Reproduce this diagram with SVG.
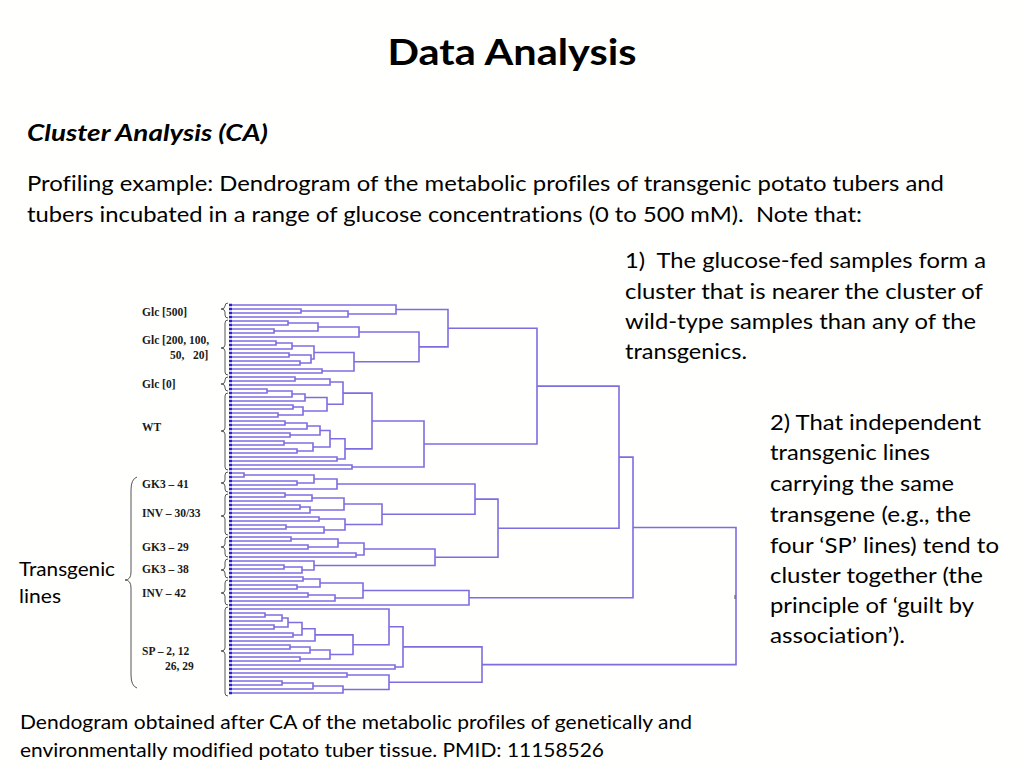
<svg xmlns="http://www.w3.org/2000/svg" width="1024" height="768" viewBox="0 0 1024 768">
<style>
.t{font-family:Lato,"Liberation Sans",sans-serif;fill:#000;font-variant-ligatures:none;}
.body{font-size:21px;}
.cap{font-size:19px;}
.lab{font-family:"Liberation Serif","DejaVu Serif",serif;font-weight:bold;font-size:11.5px;fill:#1a1a1a;}
.br{fill:none;stroke:#555;stroke-width:1;}
.dg path{fill:none;stroke:#7d6de2;stroke-width:1.6;}
</style>
<rect width="1024" height="768" fill="#fffffd"/>
<g id="title"><text class="t" x="512" y="65" text-anchor="middle" font-size="36" font-weight="bold" textLength="249" lengthAdjust="spacingAndGlyphs">Data Analysis</text></g>
<g id="subtitle"><text class="t" x="27" y="141" font-size="22" font-weight="bold" font-style="italic" textLength="241" lengthAdjust="spacingAndGlyphs">Cluster Analysis (CA)</text></g>
<g id="intro">
<text class="t body" x="27" y="191" textLength="917" lengthAdjust="spacingAndGlyphs">Profiling example: Dendrogram of the metabolic profiles of transgenic potato tubers and</text>
<text class="t body" x="27" y="222" textLength="835" lengthAdjust="spacingAndGlyphs">tubers incubated in a range of glucose concentrations (0 to 500 mM).&#160; Note that:</text>
</g>
<g id="note1">
<text class="t body" x="625" y="268" textLength="361" lengthAdjust="spacingAndGlyphs">1)&#160; The glucose-fed samples form a</text>
<text class="t body" x="625" y="299" textLength="358" lengthAdjust="spacingAndGlyphs">cluster that is nearer the cluster of</text>
<text class="t body" x="625" y="329" textLength="351" lengthAdjust="spacingAndGlyphs">wild-type samples than any of the</text>
<text class="t body" x="625" y="359" textLength="122" lengthAdjust="spacingAndGlyphs">transgenics.</text>
</g>
<g id="note2">
<text class="t body" x="770" y="430" textLength="211" lengthAdjust="spacingAndGlyphs">2) That independent</text>
<text class="t body" x="770" y="460" textLength="160" lengthAdjust="spacingAndGlyphs">transgenic lines</text>
<text class="t body" x="770" y="491" textLength="184" lengthAdjust="spacingAndGlyphs">carrying the same</text>
<text class="t body" x="770" y="522" textLength="201" lengthAdjust="spacingAndGlyphs">transgene (e.g., the</text>
<text class="t body" x="770" y="553" textLength="229" lengthAdjust="spacingAndGlyphs">four ‘SP’ lines) tend to</text>
<text class="t body" x="770" y="583" textLength="213" lengthAdjust="spacingAndGlyphs">cluster together (the</text>
<text class="t body" x="770" y="613" textLength="204" lengthAdjust="spacingAndGlyphs">principle of ‘guilt by</text>
<text class="t body" x="770" y="643" textLength="135" lengthAdjust="spacingAndGlyphs">association’).</text>
</g>
<g id="caption">
<text class="t cap" x="20" y="729" textLength="672" lengthAdjust="spacingAndGlyphs">Dendogram obtained after CA of the metabolic profiles of genetically and</text>
<text class="t cap" x="20" y="757" textLength="584" lengthAdjust="spacingAndGlyphs">environmentally modified potato tuber tissue. PMID: 11158526</text>
</g>
<g id="transgenic-lines">
<text class="t cap" x="19" y="576" textLength="96" lengthAdjust="spacingAndGlyphs">Transgenic</text>
<text class="t cap" x="19" y="603" textLength="42" lengthAdjust="spacingAndGlyphs">lines</text>
<path class="br" d="M137,477 Q131,479 131,490 V572 Q131,580 125,580 Q131,580 131,588 V675 Q131,686 137,688"/>
</g>
<g id="group-labels">
<g id="lab-glc500"><text class="lab" x="142" y="316">Glc [500]</text><path class="br" d="M228,303 Q225,303 225,306 V306 Q225,309 221,309 Q225,309 225,312 V315 Q225,318 228,318"/></g>
<g id="lab-glc200"><text class="lab" x="142" y="344">Glc [200, 100,</text><text class="lab" x="170" y="359" xml:space="preserve">50,   20]</text><path class="br" d="M228,320 Q225,320 225,323 V345 Q225,348 221,348 Q225,348 225,351 V372 Q225,375 228,375"/></g>
<g id="lab-glc0"><text class="lab" x="142" y="388">Glc [0]</text><path class="br" d="M228,377 Q225,377 225,380 V381 Q225,384 221,384 Q225,384 225,387 V388 Q225,391 228,391"/></g>
<g id="lab-wt"><text class="lab" x="142" y="431">WT</text><path class="br" d="M228,393 Q225,393 225,396 V428 Q225,431 221,431 Q225,431 225,434 V467 Q225,470 228,470"/></g>
<g id="lab-gk341"><text class="lab" x="142" y="488">GK3 – 41</text><path class="br" d="M228,472 Q225,472 225,475 V480 Q225,483 221,483 Q225,483 225,486 V489 Q225,492 228,492"/></g>
<g id="lab-inv3033"><text class="lab" x="142" y="517">INV – 30/33</text><path class="br" d="M228,494 Q225,494 225,497 V513 Q225,516 221,516 Q225,516 225,519 V532 Q225,535 228,535"/></g>
<g id="lab-gk329"><text class="lab" x="142" y="551">GK3 – 29</text><path class="br" d="M228,537 Q225,537 225,540 V544 Q225,547 221,547 Q225,547 225,550 V554 Q225,557 228,557"/></g>
<g id="lab-gk338"><text class="lab" x="142" y="573">GK3 – 38</text><path class="br" d="M228,559 Q225,559 225,562 V567 Q225,570 221,570 Q225,570 225,573 V575 Q225,578 228,578"/></g>
<g id="lab-inv42"><text class="lab" x="142" y="597">INV – 42</text><path class="br" d="M228,580 Q225,580 225,583 V590 Q225,593 221,593 Q225,593 225,596 V602 Q225,605 228,605"/></g>
<g id="lab-sp"><text class="lab" x="142" y="655">SP – 2, 12</text><text class="lab" x="165" y="670">26, 29</text><path class="br" d="M228,607 Q225,607 225,610 V648 Q225,651 221,651 Q225,651 225,654 V693 Q225,696 228,696"/></g>
</g>
<g id="connectors" class="dg">
<line x1="230.5" y1="303.75" x2="230.5" y2="695" stroke="#2b1fd0" stroke-width="3" stroke-dasharray="2.5 1.5"/>
<path d="M232 309H301V313H232"/>
<path d="M301 311H348V317H232"/>
<path d="M232 305H396V314H348"/>
<path d="M232 321H288V325H232"/>
<path d="M232 329H274V333H232"/>
<path d="M288 323H318V331H274"/>
<path d="M318 327H359V337H232"/>
<path d="M232 341H276V345H232"/>
<path d="M276 343H292V349H232"/>
<path d="M232 353H289V357H232"/>
<path d="M232 361H300V365H232"/>
<path d="M289 355H311V363H300"/>
<path d="M292 346H314V359H311"/>
<path d="M232 369H322V373H232"/>
<path d="M314 352.5H354V371H322"/>
<path d="M359 332H419V361.75H354"/>
<path d="M396 309.5H448V346.9H419"/>
<path d="M232 377H295V381H232"/>
<path d="M295 379H330V385H232"/>
<path d="M232 389H267V393H232"/>
<path d="M267 391H292V397H232"/>
<path d="M292 394H305V401H232"/>
<path d="M232 405H293V409H232"/>
<path d="M232 413H278V417H232"/>
<path d="M293 407H303V415H278"/>
<path d="M305 397.5H327V411H303"/>
<path d="M330 382H343V404.25H327"/>
<path d="M232 421H285V425H232"/>
<path d="M285 423H307V429H232"/>
<path d="M232 433H290V437H232"/>
<path d="M307 426H320V435H290"/>
<path d="M232 441H284V445H232"/>
<path d="M232 449H297V453H232"/>
<path d="M284 443H313V451H297"/>
<path d="M320 430.5H330V447H313"/>
<path d="M232 457H337V461H232"/>
<path d="M330 438.75H345V459H337"/>
<path d="M343 393.1H372V448.9H345"/>
<path d="M232 465H352V469H232"/>
<path d="M372 421H424V467H352"/>
<path d="M448 328.2H537V444H424"/>
<path d="M232 473H244V477H232"/>
<path d="M232 481H297V485H232"/>
<path d="M244 475H314V483H297"/>
<path d="M314 479H337V489H232"/>
<path d="M232 493H285V497H232"/>
<path d="M285 495H312V501H232"/>
<path d="M232 505H300V509H232"/>
<path d="M300 507H310V513H232"/>
<path d="M312 498H344V510H310"/>
<path d="M232 517H319V521H232"/>
<path d="M232 525H286V529H232"/>
<path d="M286 527H324V533H232"/>
<path d="M319 519H345V530H324"/>
<path d="M344 504H382V524.5H345"/>
<path d="M337 484H475V514.25H382"/>
<path d="M232 537H291V541H232"/>
<path d="M232 545H308V549H232"/>
<path d="M291 539H338V547H308"/>
<path d="M232 553H356V557H232"/>
<path d="M338 543H364V555H356"/>
<path d="M232 565H284V569H232"/>
<path d="M284 567H302V573H232"/>
<path d="M232 561H314V570H302"/>
<path d="M364 549H435V565.5H314"/>
<path d="M475 499.1H498V557.25H435"/>
<path d="M537 386.1H619V528.2H498"/>
<path d="M232 577H303V581H232"/>
<path d="M232 585H297V589H232"/>
<path d="M303 579H320V587H297"/>
<path d="M232 593H308V597H232"/>
<path d="M308 595H335V601H232"/>
<path d="M320 583H363V598H335"/>
<path d="M363 590.5H469V605H232"/>
<path d="M619 457.15H633V597.75H469"/>
<path d="M232 613H265V617H232"/>
<path d="M265 615H282V621H232"/>
<path d="M232 625H274V629H232"/>
<path d="M282 618H288V627H274"/>
<path d="M232 633H293V637H232"/>
<path d="M288 622.5H302V635H293"/>
<path d="M302 628.75H315V641H232"/>
<path d="M232 645H290V649H232"/>
<path d="M290 647H310V653H232"/>
<path d="M232 657H300V661H232"/>
<path d="M310 650H330V659H300"/>
<path d="M315 634.9H353V654.5H330"/>
<path d="M232 609H389V644.7H353"/>
<path d="M232 665H395V669H232"/>
<path d="M389 626.8H403V667H395"/>
<path d="M232 673H347V677H232"/>
<path d="M232 681H282V685H232"/>
<path d="M282 683H313V689H232"/>
<path d="M313 686H343V693H232"/>
<path d="M347 675H389V689.5H343"/>
<path d="M403 646.9H482V682.25H389"/>
<path d="M633 527.45H736V664.6H482"/>
<line x1="735" y1="595" x2="735" y2="599" stroke="#666" stroke-width="1.2"/>
</g>
</svg>
